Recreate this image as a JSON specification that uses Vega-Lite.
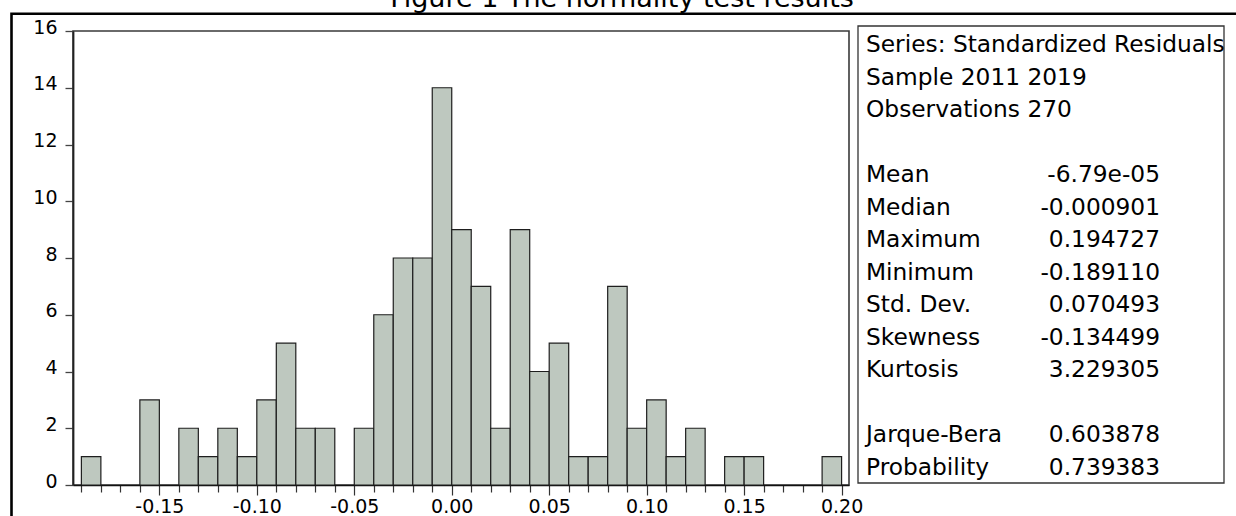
{
  "$schema": "https://vega.github.io/schema/vega-lite/v6.json",
  "width": 776,
  "height": 454,
  "autosize": {"type": "none"},
  "padding": {"left": 73, "top": 31, "right": 387, "bottom": 31},
  "background": "white",
  "title": {
    "text": "Figure 1 The normality test results",
    "font": "DejaVu Sans",
    "fontSize": 27,
    "fontWeight": "normal",
    "color": "black",
    "anchor": "middle",
    "frame": "group",
    "baseline": "alphabetic",
    "offset": -22,
    "dx": 161
  },
  "config": {
    "view": {"stroke": "#3a3a3a", "strokeWidth": 1.6}
  },
  "layer": [
    {
      "data": {"values": [{"item": "figure frame"}]},
      "mark": {"type": "rect", "fillOpacity": 0, "stroke": "black", "strokeWidth": 2.6},
      "encoding": {
        "x": {"datum": 0, "type": "quantitative", "scale": {"domain": [0, 1], "range": [-61.5, 1400], "nice": false, "zero": false}, "axis": null},
        "x2": {"datum": 1},
        "y": {"datum": 1, "type": "quantitative", "scale": {"domain": [0, 1], "range": [800, -17.3], "nice": false, "zero": false}, "axis": null},
        "y2": {"datum": 0}
      }
    },
    {
      "data": {
        "values": [
          {"bin_start": -0.19, "bin_end": -0.18, "count": 1},
          {"bin_start": -0.16, "bin_end": -0.15, "count": 3},
          {"bin_start": -0.14, "bin_end": -0.13, "count": 2},
          {"bin_start": -0.13, "bin_end": -0.12, "count": 1},
          {"bin_start": -0.12, "bin_end": -0.11, "count": 2},
          {"bin_start": -0.11, "bin_end": -0.10, "count": 1},
          {"bin_start": -0.10, "bin_end": -0.09, "count": 3},
          {"bin_start": -0.09, "bin_end": -0.08, "count": 5},
          {"bin_start": -0.08, "bin_end": -0.07, "count": 2},
          {"bin_start": -0.07, "bin_end": -0.06, "count": 2},
          {"bin_start": -0.05, "bin_end": -0.04, "count": 2},
          {"bin_start": -0.04, "bin_end": -0.03, "count": 6},
          {"bin_start": -0.03, "bin_end": -0.02, "count": 8},
          {"bin_start": -0.02, "bin_end": -0.01, "count": 8},
          {"bin_start": -0.01, "bin_end": 0.00, "count": 14},
          {"bin_start": 0.00, "bin_end": 0.01, "count": 9},
          {"bin_start": 0.01, "bin_end": 0.02, "count": 7},
          {"bin_start": 0.02, "bin_end": 0.03, "count": 2},
          {"bin_start": 0.03, "bin_end": 0.04, "count": 9},
          {"bin_start": 0.04, "bin_end": 0.05, "count": 4},
          {"bin_start": 0.05, "bin_end": 0.06, "count": 5},
          {"bin_start": 0.06, "bin_end": 0.07, "count": 1},
          {"bin_start": 0.07, "bin_end": 0.08, "count": 1},
          {"bin_start": 0.08, "bin_end": 0.09, "count": 7},
          {"bin_start": 0.09, "bin_end": 0.10, "count": 2},
          {"bin_start": 0.10, "bin_end": 0.11, "count": 3},
          {"bin_start": 0.11, "bin_end": 0.12, "count": 1},
          {"bin_start": 0.12, "bin_end": 0.13, "count": 2},
          {"bin_start": 0.14, "bin_end": 0.15, "count": 1},
          {"bin_start": 0.15, "bin_end": 0.16, "count": 1},
          {"bin_start": 0.19, "bin_end": 0.20, "count": 1}
        ]
      },
      "mark": {"type": "rect", "fill": "#bec8bf", "stroke": "#1e1e1e", "strokeWidth": 1.2},
      "encoding": {
        "x": {
          "field": "bin_start",
          "type": "quantitative",
          "scale": {"domain": [-0.1943, 0.2038], "nice": false, "zero": false},
          "axis": {
            "title": null,
            "grid": false,
            "values": [-0.19, -0.18, -0.17, -0.16, -0.15, -0.14, -0.13, -0.12, -0.11, -0.10, -0.09, -0.08, -0.07, -0.06, -0.05, -0.04, -0.03, -0.02, -0.01, 0, 0.01, 0.02, 0.03, 0.04, 0.05, 0.06, 0.07, 0.08, 0.09, 0.10, 0.11, 0.12, 0.13, 0.14, 0.15, 0.16, 0.17, 0.18, 0.19, 0.20],
            "domainColor": "#111111",
            "domainWidth": 1.6,
            "tickColor": "#333333",
            "tickWidth": 1.2,
            "tickSize": {"condition": {"test": "round(datum.value*100) % 5 === 0", "value": 10}, "value": 7},
            "labelExpr": "round(datum.value*100) % 5 === 0 ? replace(format(datum.value, '.2f'), '\u2212', '-') : ''",
            "labelFont": "DejaVu Sans",
            "labelFontSize": 19,
            "labelColor": "black",
            "labelPadding": 2,
            "labelFlush": false,
            "labelOverlap": false
          }
        },
        "x2": {"field": "bin_end"},
        "y": {
          "field": "count",
          "type": "quantitative",
          "scale": {"domain": [0, 16], "nice": false, "zero": true},
          "axis": {
            "title": null,
            "grid": false,
            "values": [0, 2, 4, 6, 8, 10, 12, 14, 16],
            "domainColor": "#222222",
            "domainWidth": 1.8,
            "tickColor": "#444444",
            "tickWidth": 1.3,
            "tickSize": 8,
            "labelPadding": 8,
            "labelFont": "DejaVu Sans",
            "labelFontSize": 19,
            "labelColor": "black",
            "labelBaseline": "alphabetic",
            "labelOffset": 2,
            "labelFlush": false,
            "labelOverlap": false
          }
        },
        "y2": {"datum": 0}
      }
    },
    {
      "data": {"values": [{"item": "statistics box"}]},
      "mark": {"type": "rect", "fillOpacity": 0, "stroke": "#333333", "strokeWidth": 1.3},
      "encoding": {
        "x": {"datum": 0, "type": "quantitative", "scale": {"domain": [0, 1], "range": [785, 1151], "nice": false, "zero": false}, "axis": null},
        "x2": {"datum": 1},
        "y": {"datum": 1, "type": "quantitative", "scale": {"domain": [0, 1], "range": [452, -5], "nice": false, "zero": false}, "axis": null},
        "y2": {"datum": 0}
      }
    },
    {
      "data": {"name": "stats"},
      "mark": {"type": "text", "align": "left", "baseline": "alphabetic", "font": "DejaVu Sans", "fontSize": 23.3, "color": "black"},
      "encoding": {
        "x": {"datum": "label", "type": "nominal", "scale": {"type": "point", "domain": ["label", "value"], "range": [793, 1087], "padding": 0}, "axis": null},
        "y": {"field": "row", "type": "quantitative", "scale": {"domain": [0, 13], "range": [21, 443.5], "nice": false, "zero": false}, "axis": null},
        "text": {"field": "label"}
      }
    },
    {
      "data": {"name": "stats"},
      "mark": {"type": "text", "align": "right", "baseline": "alphabetic", "font": "DejaVu Sans", "fontSize": 23.3, "color": "black"},
      "encoding": {
        "x": {"datum": "value", "type": "nominal", "scale": {"type": "point", "domain": ["label", "value"], "range": [793, 1087], "padding": 0}, "axis": null},
        "y": {"field": "row", "type": "quantitative", "scale": {"domain": [0, 13], "range": [21, 443.5], "nice": false, "zero": false}, "axis": null},
        "text": {"field": "value"}
      }
    }
  ],
  "datasets": {
    "stats": [
      {"row": 0, "label": "Series: Standardized Residuals", "value": ""},
      {"row": 1, "label": "Sample 2011 2019", "value": ""},
      {"row": 2, "label": "Observations 270", "value": ""},
      {"row": 4, "label": "Mean", "value": "-6.79e-05"},
      {"row": 5, "label": "Median", "value": "-0.000901"},
      {"row": 6, "label": "Maximum", "value": "0.194727"},
      {"row": 7, "label": "Minimum", "value": "-0.189110"},
      {"row": 8, "label": "Std. Dev.", "value": "0.070493"},
      {"row": 9, "label": "Skewness", "value": "-0.134499"},
      {"row": 10, "label": "Kurtosis", "value": "3.229305"},
      {"row": 12, "label": "Jarque-Bera", "value": "0.603878"},
      {"row": 13, "label": "Probability", "value": "0.739383"}
    ]
  },
  "resolve": {"scale": {"x": "independent", "y": "independent"}}
}
